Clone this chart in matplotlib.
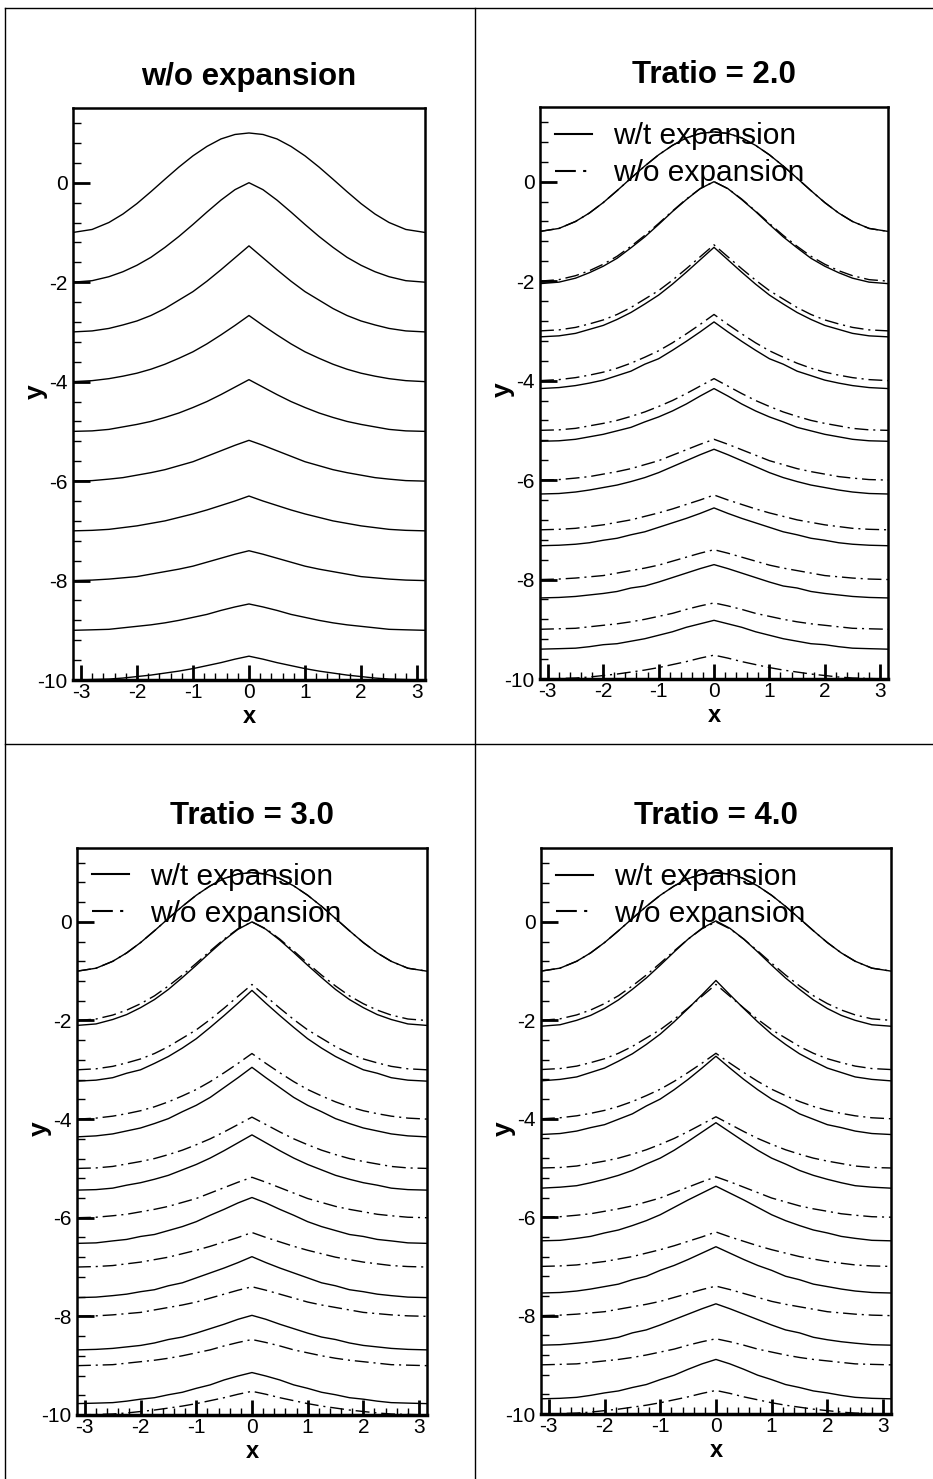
import numpy as np
import matplotlib.pyplot as plt
from matplotlib.lines import Line2D
from matplotlib.ticker import MultipleLocator

plt.rcParams['font.family'] = ['Liberation Sans', 'DejaVu Sans']
plt.rcParams['axes.unicode_minus'] = False

# half of the domain, curves are symmetric about x = 0
x_half = [0.0, 0.25, 0.5, 0.75, 1.0, 1.25, 1.5, 1.75, 2.0, 2.25, 2.5, 2.8, 3.14159]

# front positions without thermal expansion
wo_fronts = [
    [1.00, 0.97, 0.88, 0.73, 0.54, 0.315, 0.07, -0.18, -0.42, -0.63, -0.80, -0.94, -1.00],
    [0.00, -0.14, -0.35, -0.59, -0.84, -1.08, -1.30, -1.50, -1.66, -1.79, -1.89, -1.97, -2.00],
    [-1.27, -1.51, -1.75, -1.98, -2.19, -2.36, -2.53, -2.67, -2.78, -2.86, -2.93, -2.98, -3.00],
    [-2.67, -2.87, -3.06, -3.24, -3.40, -3.53, -3.65, -3.75, -3.83, -3.89, -3.94, -3.98, -4.00],
    [-3.96, -4.11, -4.26, -4.40, -4.52, -4.63, -4.72, -4.80, -4.86, -4.91, -4.96, -4.99, -5.00],
    [-5.18, -5.28, -5.39, -5.50, -5.61, -5.69, -5.77, -5.83, -5.88, -5.93, -5.96, -5.99, -6.00],
    [-6.30, -6.40, -6.49, -6.58, -6.66, -6.73, -6.80, -6.85, -6.90, -6.935, -6.97, -6.99, -7.00],
    [-7.40, -7.47, -7.55, -7.63, -7.71, -7.77, -7.82, -7.87, -7.92, -7.945, -7.97, -7.99, -8.00],
    [-8.47, -8.53, -8.60, -8.68, -8.74, -8.80, -8.85, -8.89, -8.92, -8.95, -8.98, -8.99, -9.00],
    [-9.52, -9.58, -9.65, -9.71, -9.77, -9.82, -9.86, -9.90, -9.93, -9.96, -9.98, -9.99, -10.00],
]

# front positions with thermal expansion
wt_tratio2 = [
    [1.00, 0.97, 0.88, 0.73, 0.54, 0.315, 0.07, -0.18, -0.42, -0.63, -0.80, -0.94, -1.00],
    [0.00, -0.14, -0.36, -0.60, -0.86, -1.11, -1.33, -1.54, -1.70, -1.83, -1.94, -2.02, -2.05],
    [-1.32, -1.57, -1.82, -2.06, -2.28, -2.46, -2.63, -2.77, -2.89, -2.97, -3.05, -3.10, -3.12],
    [-2.82, -3.02, -3.21, -3.39, -3.56, -3.67, -3.81, -3.90, -3.99, -4.05, -4.10, -4.14, -4.16],
    [-4.16, -4.31, -4.47, -4.61, -4.73, -4.83, -4.94, -5.01, -5.08, -5.13, -5.18, -5.21, -5.22],
    [-5.38, -5.49, -5.61, -5.73, -5.85, -5.95, -6.03, -6.10, -6.15, -6.20, -6.24, -6.27, -6.28],
    [-6.56, -6.67, -6.77, -6.86, -6.95, -7.04, -7.10, -7.17, -7.21, -7.26, -7.29, -7.31, -7.32],
    [-7.70, -7.78, -7.87, -7.96, -8.05, -8.13, -8.17, -8.24, -8.28, -8.31, -8.34, -8.36, -8.37],
    [-8.82, -8.89, -8.96, -9.05, -9.12, -9.19, -9.24, -9.29, -9.31, -9.35, -9.38, -9.39, -9.40],
]

wt_tratio3 = [
    [1.00, 0.97, 0.88, 0.73, 0.54, 0.315, 0.07, -0.18, -0.42, -0.63, -0.80, -0.94, -1.00],
    [0.00, -0.15, -0.37, -0.62, -0.88, -1.13, -1.37, -1.575, -1.74, -1.88, -1.98, -2.07, -2.10],
    [-1.39, -1.65, -1.90, -2.14, -2.37, -2.56, -2.73, -2.87, -3.00, -3.07, -3.16, -3.21, -3.23],
    [-2.95, -3.16, -3.36, -3.56, -3.72, -3.85, -3.99, -4.09, -4.18, -4.24, -4.30, -4.34, -4.36],
    [-4.32, -4.48, -4.64, -4.79, -4.92, -5.03, -5.14, -5.22, -5.29, -5.34, -5.40, -5.43, -5.44],
    [-5.59, -5.70, -5.83, -5.95, -6.08, -6.18, -6.26, -6.34, -6.38, -6.44, -6.47, -6.51, -6.52],
    [-6.79, -6.91, -7.02, -7.12, -7.22, -7.32, -7.38, -7.46, -7.50, -7.55, -7.58, -7.61, -7.62],
    [-7.98, -8.06, -8.16, -8.25, -8.34, -8.42, -8.47, -8.54, -8.59, -8.62, -8.65, -8.67, -8.68],
    [-9.14, -9.21, -9.29, -9.39, -9.46, -9.54, -9.59, -9.65, -9.68, -9.72, -9.75, -9.76, -9.77],
]

wt_tratio4 = [
    [1.00, 0.97, 0.88, 0.73, 0.54, 0.315, 0.07, -0.18, -0.42, -0.63, -0.80, -0.94, -1.00],
    [0.02, -0.13, -0.35, -0.61, -0.88, -1.14, -1.37, -1.585, -1.76, -1.90, -2.00, -2.09, -2.12],
    [-1.19, -1.48, -1.76, -2.03, -2.28, -2.49, -2.68, -2.83, -2.97, -3.06, -3.15, -3.20, -3.23],
    [-2.73, -2.97, -3.20, -3.41, -3.60, -3.74, -3.90, -4.01, -4.12, -4.18, -4.25, -4.30, -4.32],
    [-4.08, -4.27, -4.46, -4.64, -4.80, -4.92, -5.05, -5.15, -5.23, -5.30, -5.36, -5.39, -5.41],
    [-5.37, -5.51, -5.65, -5.80, -5.95, -6.07, -6.17, -6.26, -6.32, -6.39, -6.43, -6.47, -6.48],
    [-6.60, -6.73, -6.86, -6.98, -7.08, -7.20, -7.27, -7.36, -7.41, -7.46, -7.50, -7.53, -7.54],
    [-7.76, -7.86, -7.97, -8.08, -8.19, -8.29, -8.35, -8.44, -8.49, -8.53, -8.56, -8.59, -8.60],
    [-8.89, -8.98, -9.09, -9.21, -9.30, -9.40, -9.46, -9.53, -9.57, -9.62, -9.66, -9.68, -9.69],
]

titles = ['w/o expansion', 'Tratio = 2.0', 'Tratio = 3.0', 'Tratio = 4.0']
wt_sets = [None, wt_tratio2, wt_tratio3, wt_tratio4]


def mirror(y):
    xs = np.concatenate([-np.array(x_half[::-1]), np.array(x_half[1:])])
    ys = np.concatenate([np.array(y[::-1]), np.array(y[1:])])
    return xs, ys


fig = plt.figure(figsize=(9.33, 14.79), dpi=100)

# panel frame lines
fig.add_artist(Line2D([0.005, 1.0], [0.9946, 0.9946], color='black', lw=1.0))
fig.add_artist(Line2D([0.005, 0.005], [0.0, 0.9946], color='black', lw=1.0))
fig.add_artist(Line2D([0.509, 0.509], [0.0, 0.9946], color='black', lw=1.0))
fig.add_artist(Line2D([0.005, 1.0], [0.497, 0.497], color='black', lw=1.0))

positions = [
    [0.0782, 0.5402, 0.3773, 0.3867],
    [0.5788, 0.5409, 0.3730, 0.3867],
    [0.0825, 0.0433, 0.3751, 0.3834],
    [0.5798, 0.0439, 0.3751, 0.3827],
]

dashdot = (0, (10, 3.5, 1.5, 3.5))

for i, pos in enumerate(positions):
    ax = fig.add_axes(pos)
    if i == 0:
        for f in wo_fronts:
            ax.plot(*mirror(f), color='black', lw=1.0)
    else:
        for f in wt_sets[i]:
            ax.plot(*mirror(f), color='black', lw=1.0)
        for f in wo_fronts:
            ax.plot(*mirror(f), color='black', lw=1.0, linestyle=dashdot)
        handles = [Line2D([], [], color='black', lw=1.5),
                   Line2D([], [], color='black', lw=1.5, linestyle=dashdot)]
        ax.legend(handles, ['w/t expansion', 'w/o expansion'], loc='upper left',
                  frameon=False, fontsize=21.5, handlelength=1.25,
                  handletextpad=0.7, borderaxespad=0.2, borderpad=0.3,
                  labelspacing=0.3)

    ax.set_xlim(-3.14159, 3.14159)
    ax.set_ylim(-10, 1.5)
    ax.xaxis.set_major_locator(MultipleLocator(1))
    ax.xaxis.set_minor_locator(MultipleLocator(0.2))
    ax.yaxis.set_major_locator(MultipleLocator(2))
    ax.yaxis.set_minor_locator(MultipleLocator(0.4))
    ax.tick_params(axis='x', which='major', direction='in', length=11, width=2,
                   labelsize=15, pad=2)
    ax.tick_params(axis='x', which='minor', direction='in', length=5, width=1)
    ax.tick_params(axis='y', which='major', direction='in', length=12, width=2,
                   labelsize=15, pad=4)
    ax.tick_params(axis='y', which='minor', direction='in', length=6, width=1)
    for side in ['top', 'right', 'left']:
        ax.spines[side].set_linewidth(1.8)
    ax.spines['bottom'].set_linewidth(2.5)

    ax.set_title(titles[i], fontsize=22.5, fontweight='bold', pad=17)
    ax.set_xlabel('x', fontsize=17, fontweight='bold', labelpad=2)
    ax.set_ylabel('y', fontsize=19, fontweight='bold')
    ax.yaxis.set_label_coords(-0.072, 0.505)

fig.savefig('out.png', dpi=100)
